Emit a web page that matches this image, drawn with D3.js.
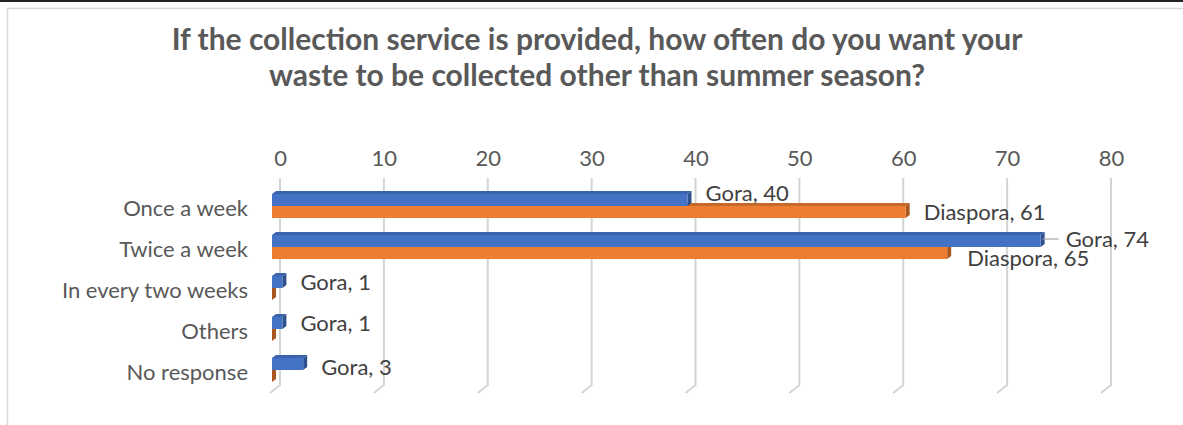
<!DOCTYPE html>
<html>
<head>
<meta charset="utf-8">
<script src="https://cdn.jsdelivr.net/npm/d3@7"></script>
<style>
  body { margin: 0; background: #fff; }
  svg { display: block; font-family: Lato, "Open Sans", sans-serif; }
</style>
</head>
<body>
<div id="chart"></div>
<script>
// data
const categories = ["Once a week", "Twice a week", "In every two weeks", "Others", "No response"];
const series = ["Gora", "Diaspora"];
const gora = [40, 74, 1, 1, 3];
const diaspora = [61, 65, 0, 0, 0];
const xTicks = [0, 10, 20, 30, 40, 50, 60, 70, 80];

const width = 1183, height = 425;
const colors = {
  Gora: { front: "#4472C4", top: "#3A63AE", side: "#2F528F" },
  Diaspora: { front: "#ED7D31", top: "#C8692A", side: "#A9561F" }
};
const fontSize = 22;
// 3D offsets
const depth = { dx: 4, dy: -3 };      // bar depth
const wall = { dx: 8, dy: -7 };       // back wall relative to bar front
const floorDrop = { dx: -10, dy: 8 }; // floor edge of the gridlines

const svg = d3.select("#chart").append("svg")
  .attr("width", width).attr("height", height);

// frame
svg.append("rect").attr("x", 0).attr("y", 0).attr("width", width).attr("height", 2).attr("fill", "#222");
svg.append("path")
  .attr("d", `M7.5,${height} V8.5 H${width}`)
  .attr("fill", "none").attr("stroke", "#d9d9d9").attr("stroke-width", 1.5);

// title
const title = svg.append("text")
  .attr("text-anchor", "middle")
  .attr("fill", "#595959")
  .attr("font-weight", "bold")
  .attr("font-size", 30);
title.append("tspan").attr("x", 597).attr("y", 50).text("If the collection service is provided, how often do you want your");
title.append("tspan").attr("x", 597).attr("y", 86).text("waste to be collected other than summer season?");

// scales
const x = d3.scaleLinear().domain([0, 80]).range([272, 1103]);
const y0 = d3.scaleBand().domain(categories).range([185.5, 390.5]);
const y1 = d3.scaleBand().domain(series)
  .range([y0.bandwidth() / 2 - 12, y0.bandwidth() / 2 + 12]);

// gridlines on the back wall, bent onto the floor
const gridTop = 178, gridBottom = 385;
svg.append("g").selectAll("path")
  .data(xTicks)
  .join("path")
  .attr("d", d => {
    const gx = x(d) + wall.dx;
    return `M${gx},${gridTop} V${gridBottom} l${floorDrop.dx},${floorDrop.dy}`;
  })
  .attr("fill", "none")
  .attr("stroke", "#d4d4d4")
  .attr("stroke-width", 2);

// top axis labels
const axis = svg.append("g")
  .attr("transform", `translate(${wall.dx},166)`)
  .call(d3.axisTop(x).tickValues(xTicks).tickSize(0).tickPadding(0));
axis.select(".domain").remove();
axis.selectAll("text")
  .attr("fill", "#595959")
  .attr("font-size", fontSize)
  .attr("font-family", "Lato, sans-serif");

// category labels
svg.append("g").selectAll("text")
  .data(categories)
  .join("text")
  .attr("x", 248)
  .attr("y", d => y0(d) + y0.bandwidth() / 2 + 10)
  .attr("text-anchor", "end")
  .attr("fill", "#595959")
  .attr("font-size", fontSize)
  .text(d => d);

// bars: orange first so the blue front covers its top face
const rows = [];
categories.forEach((c, i) => {
  rows.push({ cat: c, s: "Diaspora", v: diaspora[i], i });
});
categories.forEach((c, i) => {
  rows.push({ cat: c, s: "Gora", v: gora[i], i });
});

const bars = svg.append("g").selectAll("g")
  .data(rows)
  .join("g");

bars.append("path") // top face
  .attr("d", d => {
    const x0 = x(0), x1 = x(d.v), yt = y0(d.cat) + y1(d.s);
    return `M${x0},${yt} L${x0 + depth.dx},${yt + depth.dy} L${x1 + depth.dx},${yt + depth.dy} L${x1},${yt} Z`;
  })
  .attr("fill", d => colors[d.s].top);

bars.append("path") // side face
  .attr("d", d => {
    const x1 = x(d.v), yt = y0(d.cat) + y1(d.s), yb = yt + y1.bandwidth();
    return `M${x1},${yt} L${x1 + depth.dx},${yt + depth.dy} L${x1 + depth.dx},${yb + depth.dy} L${x1},${yb} Z`;
  })
  .attr("fill", d => colors[d.s].side);

bars.append("rect") // front face
  .attr("x", x(0))
  .attr("y", d => y0(d.cat) + y1(d.s))
  .attr("width", d => x(d.v) - x(0))
  .attr("height", y1.bandwidth())
  .attr("fill", d => colors[d.s].front);

// data labels (Excel moved a few of them by hand)
const labelShift = {
  "Gora-0": { dx: 0, dy: -7 },
  "Gora-1": { dx: 7, dy: -2, leader: true },
  "Diaspora-1": { dx: 2, dy: 5 },
  "Gora-4": { dx: 0, dy: 3 }
};
const labelled = rows.filter(d => d.v > 0);
const labels = svg.append("g").selectAll("g")
  .data(labelled)
  .join("g");

labels.each(function(d) {
  const sh = labelShift[`${d.s}-${d.i}`] || { dx: 0, dy: 0 };
  const lx = x(d.v) + 18 + sh.dx;
  const ly = y0(d.cat) + y1(d.s) + y1.bandwidth() / 2 + sh.dy;
  const g = d3.select(this);
  if (sh.leader) {
    g.append("line")
      .attr("x1", x(d.v) + 2).attr("y1", ly)
      .attr("x2", lx - 7).attr("y2", ly)
      .attr("stroke", "#a6a6a6").attr("stroke-width", 1.2);
  }
  g.append("text")
    .attr("x", lx)
    .attr("y", ly + 8)
    .attr("fill", "#404040")
    .attr("font-size", fontSize)
    .text(`${d.s}, ${d.v}`);
});
</script>
</body>
</html>
